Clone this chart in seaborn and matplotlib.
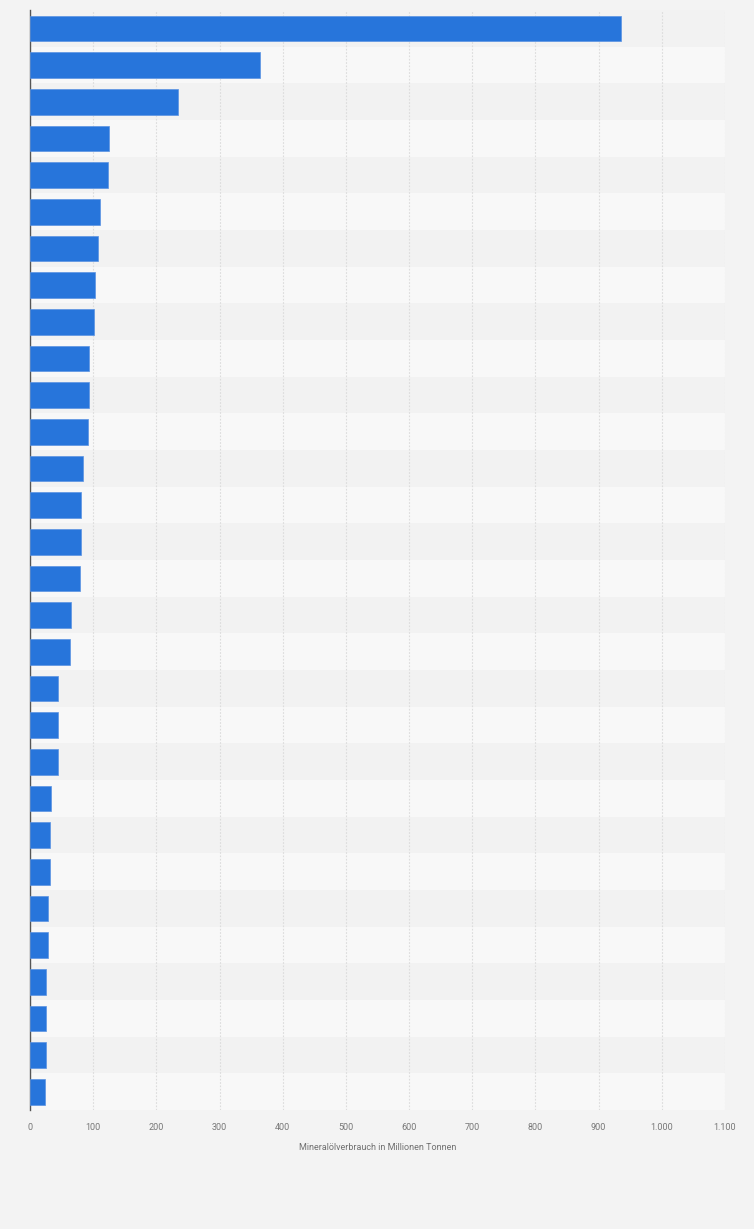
import matplotlib
matplotlib.use("Agg")
import matplotlib.pyplot as plt
import seaborn as sns
import pandas as pd
from matplotlib.ticker import FuncFormatter

categories = [f"Land {i+1}" for i in range(30)]
values = [935, 364, 235, 125, 123, 111.5, 108, 103, 101, 93, 93, 91.5, 83.5, 80, 80,
          79, 64.5, 63, 45, 44, 44, 33, 31, 31, 28, 28, 25, 25, 25, 23.5]
xticks = [0, 100, 200, 300, 400, 500, 600, 700, 800, 900, 1000, 1100]
xlabel = "Mineralölverbrauch in Millionen Tonnen"

df = pd.DataFrame({"land": categories, "wert": values})

sns.set_theme(style="white")
plt.rcParams['font.family'] = ['Roboto', 'DejaVu Sans']

fig = plt.figure(figsize=(7.54, 12.29), dpi=100, facecolor="#f3f3f3")
ax = fig.add_axes([30/754, 119/1229, 695/754, 1100/1229])
ax.set_facecolor("#f8f8f8")

for i in range(len(categories)):
    ax.axhspan(i - 0.5, i + 0.5, color="#f2f2f2" if i % 2 == 0 else "#f8f8f8", zorder=0, lw=0)

sns.barplot(data=df, x="wert", y="land", orient="h", color="#2775db", saturation=1,
            width=0.7, ax=ax, zorder=3, edgecolor="#5a93e3", linewidth=0.5)

ax.set_xlim(0, 1100)
ax.set_ylim(len(categories) - 0.5, -0.5)
ax.set_xticks(xticks)
ax.xaxis.set_major_formatter(FuncFormatter(lambda v, p: f"{int(v):,}".replace(",", ".")))
ax.grid(axis="x", color="#dcdcdc", linestyle=(0, (1.5, 1.5)), linewidth=0.8, zorder=1)
ax.set_axisbelow(True)
ax.set_yticks([])
ax.set_ylabel("")
ax.set_xlabel(xlabel, fontsize=6.5, color="#707070", labelpad=8)
ax.tick_params(axis="x", labelsize=6.5, labelcolor="#777777", length=0, pad=9)
for s in ["top", "right", "bottom"]:
    ax.spines[s].set_visible(False)
ax.spines["left"].set_color("#555555")
ax.spines["left"].set_linewidth(1.0)

fig.savefig("out.png", dpi=100, facecolor=fig.get_facecolor())
